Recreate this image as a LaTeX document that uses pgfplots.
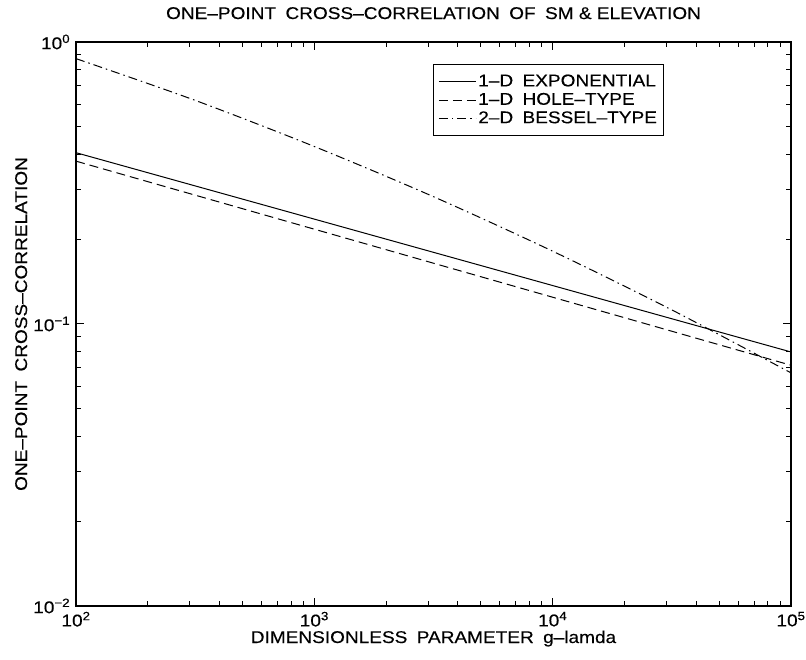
\documentclass[border=0pt]{standalone}
\usepackage{fontspec}
\setmainfont[FakeStretch=1.12,FakeBold=0.3]{Liberation Sans}
\usepackage{pgfplots}
\pgfplotsset{compat=1.18}
\newcommand{\ws}{\hspace{0.55em}}

\begin{document}
\fontsize{17}{20}\selectfont
\begin{tikzpicture}
\useasboundingbox (-76pt,-54pt) rectangle (730pt,606pt);
\begin{axis}[
  scale only axis, width=715pt, height=564pt,
  at={(0pt,0pt)}, anchor=south west,
  xmode=log, ymode=log,
  xmin=100, xmax=100000, ymin=0.01, ymax=1,
  xtick={100,1000,10000,100000},
  xticklabels={10\textsuperscript{2},10\textsuperscript{3},10\textsuperscript{4},10\textsuperscript{5}},
  ytick={0.01,0.1,1},
  yticklabels={10\textsuperscript{−2},10\textsuperscript{−1},10\textsuperscript{0}},
  tick align=inside, tick pos=both,
  major tick length=8pt, minor tick length=5pt,
  every tick/.style={black, line width=1pt},
  axis line style={line width=1.3pt},
  font=\fontsize{17}{20}\selectfont,
  ticklabel style={font=\fontsize{17}{20}\selectfont},
  title={ONE–POINT\ws CROSS–CORRELATION\ws OF\ws SM \& ELEVATION},
  title style={at={(axis description cs:0.5,1.0301)}, anchor=base, inner sep=0pt},
  xlabel={DIMENSIONLESS\ws PARAMETER\ws g–lamda},
  xlabel style={at={(axis description cs:0.5,-0.0656)}, anchor=base, inner sep=0pt},
  ylabel={ONE–POINT\ws CROSS–CORRELATION},
  ylabel style={at={(axis description cs:-0.0685,0.5)}, anchor=base, rotate=0, inner sep=0pt},
  legend style={at={(axis description cs:0.499,0.961)}, anchor=north west,
    draw=black, line width=1pt, fill=white, inner xsep=5pt, inner ysep=8pt,
    row sep=0pt, font=\fontsize{17}{19}\selectfont},
  legend cell align=left,
  legend image code/.code={\draw[#1] (0pt,0pt) -- (37pt,0pt);},
]
\addplot[black, line width=1pt, no marks] coordinates {(100,0.405) (100000,0.0796)};
\addlegendentry{1–D\ws EXPONENTIAL}
\addplot[black, line width=1pt, no marks, dash pattern=on 9pt off 5pt] coordinates {(100,0.378) (100000,0.0714)};
\addlegendentry{1–D\ws HOLE–TYPE}
\addplot[black, line width=1pt, no marks, smooth, dash pattern=on 9pt off 4pt on 1.5pt off 4pt] coordinates {
(100,0.873) (316.2,0.621) (1000,0.426) (3162,0.2828) (10000,0.1812) (31623,0.1122) (100000,0.0671)};
\addlegendentry{2–D\ws BESSEL–TYPE}
\end{axis}
\end{tikzpicture}
\end{document}
